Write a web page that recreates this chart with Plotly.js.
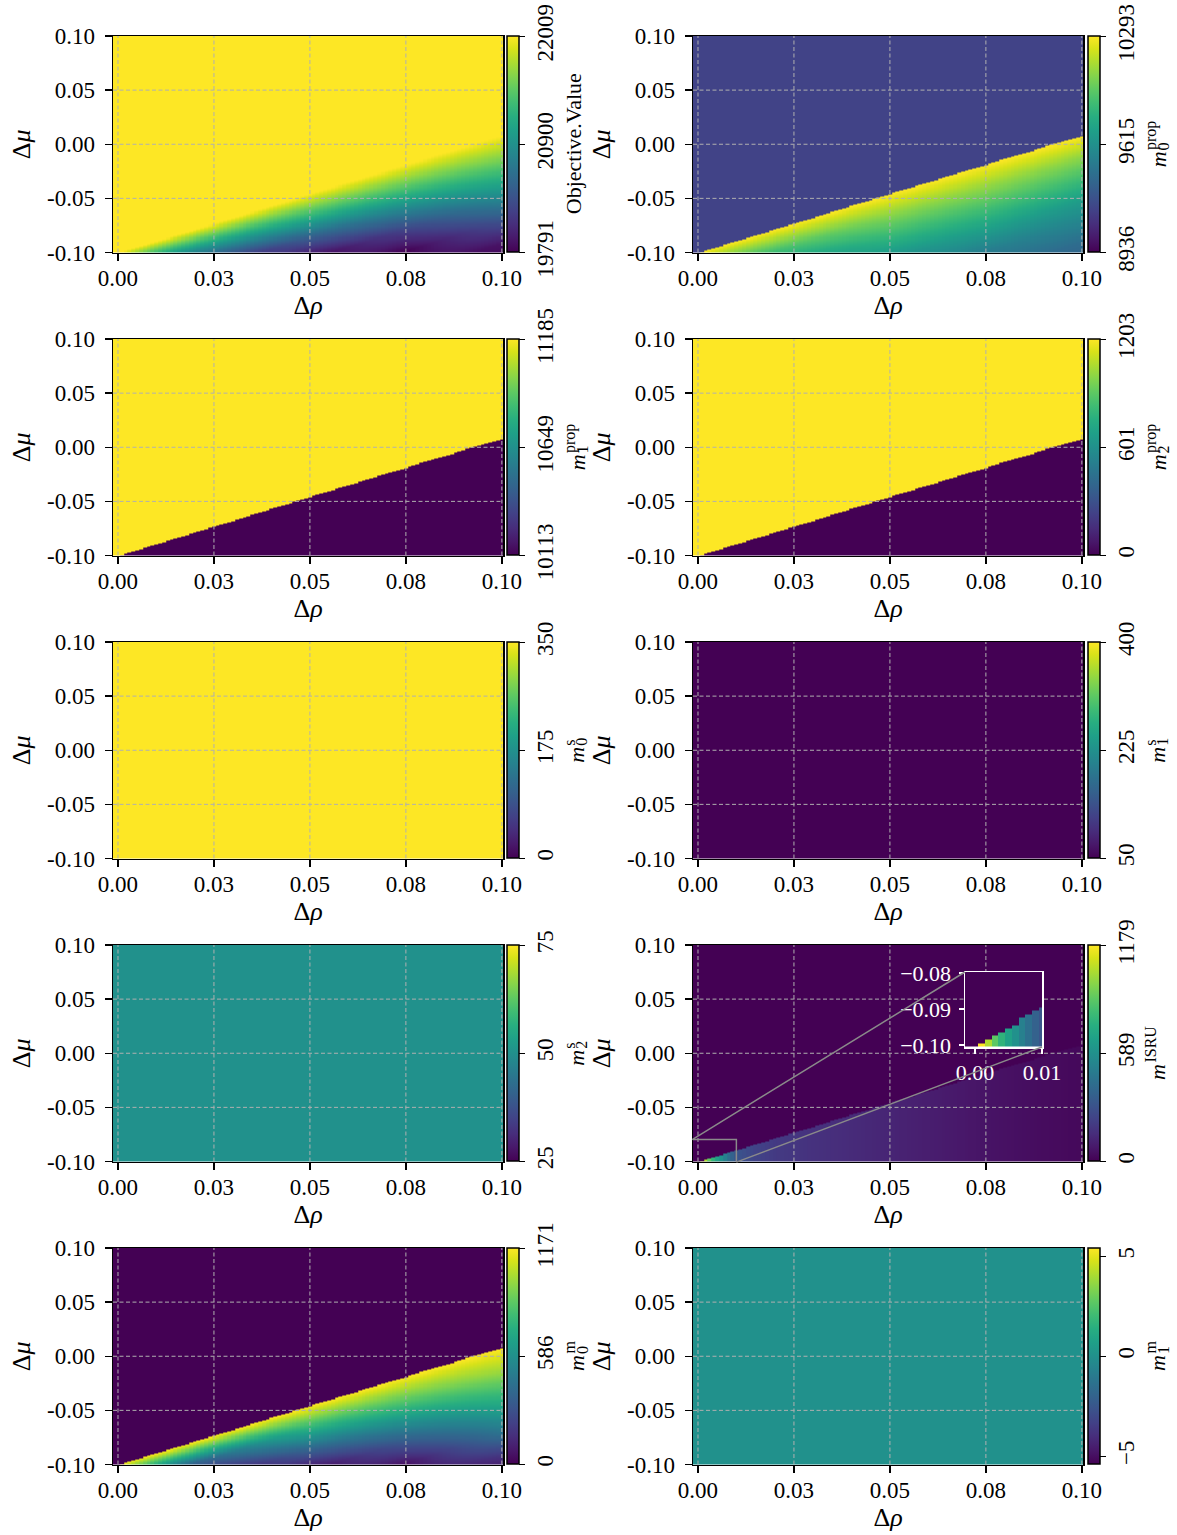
<!DOCTYPE html>
<html>
<head>
<meta charset="utf-8">
<script src="https://cdn.plot.ly/plotly-3.0.1.min.js"></script>
<style>html,body{margin:0;padding:0;background:#fff}</style>
</head>
<body>
<div id="chart" style="width:1177px;height:1535px"></div>
<script>
// ---------------- DATA ----------------
// axis ticks
const rhoTicks = [0, 0.025, 0.05, 0.075, 0.1];
const rhoTickText = ['0.00', '0.03', '0.05', '0.08', '0.10'];
const muTicks = [-0.1, -0.05, 0, 0.05, 0.1];
const muTickText = ['-0.10', '-0.05', '0.00', '0.05', '0.10'];

// sampling grid of the sweep (step 0.001 in both parameters)
const rhoGrid = Array.from({length: 101}, (_, i) => +(i * 0.001).toFixed(3));
const muGrid = Array.from({length: 201}, (_, j) => +(-0.1 + j * 0.001).toFixed(3));

// regime boundary (Δμ where the solution switches), read at these Δρ
const boundaryRho = [0, 0.025, 0.05, 0.075, 0.1];
const boundaryMu = [-0.1005, -0.0735, -0.046, -0.019, 0.008];

// values below the boundary, read at (profileRho row, depth-below-boundary column)
const profileRho = [0, 0.025, 0.05, 0.075, 0.1];
const profileDepth = [0, 0.02, 0.04, 0.06, 0.08, 0.1, 0.12];

// Objective value
const objRange = [19791, 22009];
const objAbove = 22009;
const objBelow = [
  [22009, 20456, 19791, 19791, 19791, 19791, 19791],
  [22009, 20922, 19902, 19791, 19791, 19791, 19791],
  [22009, 21255, 20456, 19791, 19791, 19791, 19791],
  [22009, 21432, 20833, 20235, 19791, 19791, 19791],
  [22009, 21610, 21188, 20767, 20323, 19902, 19791]
];
// m0 prop
const m0propRange = [8936, 10293];
const m0propAbove = 9207;
const m0propBelow = [
  [10293, 9750, 9547, 9479, 9411, 9343, 9343],
  [10293, 9913, 9615, 9547, 9479, 9411, 9343],
  [10293, 10049, 9832, 9615, 9506, 9452, 9411],
  [10293, 10076, 9886, 9696, 9506, 9411, 9343],
  [10293, 10062, 9872, 9682, 9547, 9411, 9343]
];
// m1 prop, m2 prop (two levels)
const m1propRange = [10113, 11185];
const m1propAbove = 11185, m1propBelow = 10113;
const m2propRange = [0, 1203];
const m2propAbove = 1203, m2propBelow = 0;
// structural masses (constant over the sweep)
const m0sRange = [0, 350], m0sValue = 350;
const m1sRange = [50, 400], m1sValue = 50;
const m2sRange = [25, 75], m2sValue = 50;
// ISRU mass below the boundary, depends on Δρ
const isruRange = [0, 1179];
const isruRho = [0.001, 0.002, 0.003, 0.004, 0.005, 0.006, 0.007, 0.008, 0.009, 0.01, 0.015, 0.02, 0.03, 0.04, 0.05, 0.06, 0.075, 0.09, 0.1];
const isruVal = [1179, 1038, 884, 766, 672, 590, 507, 436, 365, 307, 236, 200, 165, 141, 118, 94, 59, 35, 24];
const isruAbove = 0;
// m0 m
const m0mRange = [0, 1171];
const m0mAbove = 0;
const m0mBelow = [
  [1171, 234, 0, 0, 0, 0, 0],
  [1171, 410, 0, 0, 0, 0, 0],
  [1171, 761, 375, 23, 0, 0, 0],
  [1171, 890, 609, 328, 59, 0, 0],
  [1171, 1019, 820, 632, 433, 176, 0]
];
// m1 m
const m1mRange = [-5.4, 5.4], m1mValue = 0;

// colorbar ticks
const objCbVals = [19791, 20900, 22009], objCbText = ['19791', '20900', '22009'];
const m0propCbVals = [8936, 9614.5, 10293], m0propCbText = ['8936', '9615', '10293'];
const m1propCbVals = [10113, 10649, 11185], m1propCbText = ['10113', '10649', '11185'];
const m2propCbVals = [0, 601.5, 1203], m2propCbText = ['0', '601', '1203'];
const m0sCbVals = [0, 175, 350], m0sCbText = ['0', '175', '350'];
const m1sCbVals = [50, 225, 400], m1sCbText = ['50', '225', '400'];
const m2sCbVals = [25, 50, 75], m2sCbText = ['25', '50', '75'];
const isruCbVals = [0, 589.5, 1179], isruCbText = ['0', '589', '1179'];
const m0mCbVals = [0, 585.5, 1171], m0mCbText = ['0', '586', '1171'];
const m1mCbVals = [-5, 0, 5], m1mCbText = ['\u22125', '0', '5'];

// inset view
const insetXRange = [-0.0015, 0.01];
const insetYRange = [-0.1006, -0.0797];
const insetXTicks = [0, 0.01], insetXText = ['0.00', '0.01'];
const insetYTicks = [-0.1, -0.09, -0.08], insetYText = ['\u22120.10', '\u22120.09', '\u22120.08'];

// ---------------- HELPERS ----------------
function interp1(xs, ys, x) {
  if (x <= xs[0]) return ys[0];
  for (let k = 1; k < xs.length; k++) {
    if (x <= xs[k]) {
      const t = (x - xs[k - 1]) / (xs[k] - xs[k - 1]);
      return ys[k - 1] + t * (ys[k] - ys[k - 1]);
    }
  }
  return ys[ys.length - 1];
}
function tableAt(table, rho, depth) {
  const col = table.map(row => interp1(profileDepth, row, depth));
  return interp1(profileRho, col, rho);
}
const bnd = rho => interp1(boundaryRho, boundaryMu, rho);
function buildZ(fn) { return muGrid.map(mu => rhoGrid.map(rho => fn(rho, mu))); }

// ---------------- LAYOUT GEOMETRY ----------------
const W = 1177, H = 1535;
const FONT = '"Liberation Serif", "Times New Roman", serif';
const colX0 = [113, 693], colX1 = [503, 1083];
const cbX = [507, 1088];
const mCenterX = [577, 1158];
const rowY0 = [36, 339, 642, 945, 1248], plotH = 216.5;
const xRange = [-0.0013, 0.1003], yRange = [-0.1, 0.1];

const xEdges = [-0.0015].concat(rhoGrid.slice(1).map((r, i) => (r + rhoGrid[i]) / 2), [0.1005]);
const yEdges = [-0.1005].concat(muGrid.slice(1).map((m, j) => (m + muGrid[j]) / 2), [0.1005]);

const panels = [
  {label: {text: 'Objective.Value'}, range: objRange, tv: objCbVals, tt: objCbText,
   f: (r, m) => m >= bnd(r) ? objAbove : tableAt(objBelow, r, bnd(r) - m)},
  {label: {base: 'm', sub: '0', sup: 'prop'}, range: m0propRange, tv: m0propCbVals, tt: m0propCbText,
   f: (r, m) => m >= bnd(r) ? m0propAbove : tableAt(m0propBelow, r, bnd(r) - m)},
  {label: {base: 'm', sub: '1', sup: 'prop'}, range: m1propRange, tv: m1propCbVals, tt: m1propCbText,
   f: (r, m) => m >= bnd(r) ? m1propAbove : m1propBelow},
  {label: {base: 'm', sub: '2', sup: 'prop'}, range: m2propRange, tv: m2propCbVals, tt: m2propCbText,
   f: (r, m) => m >= bnd(r) ? m2propAbove : m2propBelow},
  {label: {base: 'm', sub: '0', sup: 's'}, range: m0sRange, tv: m0sCbVals, tt: m0sCbText, f: () => m0sValue},
  {label: {base: 'm', sub: '1', sup: 's'}, range: m1sRange, tv: m1sCbVals, tt: m1sCbText, f: () => m1sValue},
  {label: {base: 'm', sub: '2', sup: 's'}, range: m2sRange, tv: m2sCbVals, tt: m2sCbText, f: () => m2sValue},
  {label: {base: 'm', sub: '', sup: 'ISRU'}, range: isruRange, tv: isruCbVals, tt: isruCbText,
   f: (r, m) => m >= bnd(r) ? isruAbove : interp1(isruRho, isruVal, r)},
  {label: {base: 'm', sub: '0', sup: 'm'}, range: m0mRange, tv: m0mCbVals, tt: m0mCbText,
   f: (r, m) => m >= bnd(r) ? m0mAbove : tableAt(m0mBelow, r, bnd(r) - m)},
  {label: {base: 'm', sub: '1', sup: 'm'}, range: m1mRange, tv: m1mCbVals, tt: m1mCbText, f: () => m1mValue}
];

// text measuring for the stacked sub/superscript colorbar labels
const mctx = document.createElement('canvas').getContext('2d');
function textW(txt, size, italic) {
  mctx.font = (italic ? 'italic ' : '') + size + 'px "Liberation Serif"';
  return mctx.measureText(txt).width;
}

const data = [];
const layout = {
  width: W, height: H, margin: {l: 0, r: 0, t: 0, b: 0},
  paper_bgcolor: 'white', plot_bgcolor: 'white', showlegend: false, hovermode: false,
  font: {family: FONT, size: 23, color: 'black'},
  annotations: [], shapes: []
};

const axBase = {
  showline: true, linecolor: 'black', linewidth: 1.5, mirror: true,
  ticks: 'outside', ticklen: 7, tickwidth: 1.5, tickcolor: 'black',
  showgrid: false, zeroline: false, layer: 'above traces',
  tickfont: {family: FONT, size: 23, color: 'black'}, fixedrange: true
};

function ann(x, y, text, size, xanchor, yanchor) {
  return {xref: 'paper', yref: 'paper', x: x / W, y: 1 - y / H, text: text, textangle: -90,
    showarrow: false, xanchor: xanchor, yanchor: yanchor, borderpad: 0, borderwidth: 0,
    font: {family: FONT, size: size, color: 'black'}};
}

let isruZ = null;
panels.forEach((p, i) => {
  const row = Math.floor(i / 2), col = i % 2, n = i + 1;
  const xa = n === 1 ? 'x' : 'x' + n, ya = n === 1 ? 'y' : 'y' + n;
  const z = buildZ(p.f);
  if (i === 7) isruZ = z;
  const cy = rowY0[row] + plotH / 2;
  data.push({
    type: 'heatmap', x: xEdges, y: yEdges, z: z, zmin: p.range[0], zmax: p.range[1],
    colorscale: 'Viridis', xaxis: xa, yaxis: ya, hoverinfo: 'skip',
    colorbar: {
      x: cbX[col] / W, xanchor: 'left', xpad: 0, ypad: 0,
      y: 1 - cy / H, yanchor: 'middle',
      len: plotH / H, lenmode: 'fraction', thickness: 12, thicknessmode: 'pixels',
      outlinewidth: 1.5, outlinecolor: 'black',
      ticks: 'outside', ticklen: 6, tickwidth: 1.5, tickcolor: 'black',
      tickangle: -90, tickmode: 'array', tickvals: p.tv, ticktext: p.tt,
      tickfont: {family: FONT, size: 23, color: 'black'}
    }
  });
  // grid lines from the tick arrays
  const gx = [], gy = [];
  rhoTicks.forEach(t => { gx.push(t, t, null); gy.push(yRange[0], yRange[1], null); });
  muTicks.filter(t => t > yRange[0] && t < yRange[1]).forEach(t => { gx.push(xRange[0], xRange[1], null); gy.push(t, t, null); });
  data.push({type: 'scatter', mode: 'lines', x: gx, y: gy, xaxis: xa, yaxis: ya,
    line: {color: '#b0b0b0', width: 1, dash: '4px,2.5px'}, hoverinfo: 'skip', showlegend: false});

  const xKey = 'xaxis' + (n === 1 ? '' : n), yKey = 'yaxis' + (n === 1 ? '' : n);
  layout[xKey] = Object.assign({}, axBase, {
    domain: [colX0[col] / W, colX1[col] / W], range: xRange, anchor: ya,
    tickmode: 'array', tickvals: rhoTicks, ticktext: rhoTickText, ticklabelstandoff: -3,
    title: {text: '\u0394<i>\u03c1</i>', font: {family: FONT, size: 26}, standoff: 6}
  });
  layout[yKey] = Object.assign({}, axBase, {
    domain: [1 - (rowY0[row] + plotH) / H, 1 - rowY0[row] / H], range: yRange, anchor: xa,
    tickmode: 'array', tickvals: muTicks, ticktext: muTickText, ticklabelstandoff: 5,
    title: {text: '\u0394<i>\u03bc</i>', font: {family: FONT, size: 26}, standoff: 9}
  });

  // colorbar label
  const L = p.label;
  if (L.text) {
    layout.annotations.push(ann(mCenterX[col] - 4, cy, L.text, 22, 'center', 'middle'));
  } else {
    const wM = textW(L.base, 22, true);
    const wS = Math.max(textW(L.sub, 16, false), textW(L.sup, 16, false));
    const total = wM + 1 + wS;
    const yStart = cy + total / 2;
    layout.annotations.push(ann(mCenterX[col], yStart, '<i>' + L.base + '</i>', 22, 'center', 'bottom'));
    if (L.sub) layout.annotations.push(ann(mCenterX[col] + 5, yStart - wM - 1, L.sub, 16, 'center', 'bottom'));
    layout.annotations.push(ann(mCenterX[col] - 7, yStart - wM - 1, L.sup, 16, 'center', 'bottom'));
  }
});

// inset (zoom of the ISRU panel)
const inX0 = 965, inX1 = 1042, inY0 = 972, inY1 = 1047;
data.push({type: 'heatmap', x: xEdges, y: yEdges, z: isruZ, zmin: isruRange[0], zmax: isruRange[1],
  colorscale: 'Viridis', showscale: false, xaxis: 'x11', yaxis: 'y11', hoverinfo: 'skip'});
const inAx = {
  showline: true, linecolor: 'white', linewidth: 1.5, mirror: true,
  ticks: 'outside', ticklen: 5, tickwidth: 1.5, tickcolor: 'white',
  showgrid: false, zeroline: false, layer: 'above traces', fixedrange: true,
  tickfont: {family: FONT, size: 22, color: 'white'}
};
layout.xaxis11 = Object.assign({}, inAx, {domain: [inX0 / W, inX1 / W], range: insetXRange, anchor: 'y11',
  tickmode: 'array', tickvals: insetXTicks, ticktext: insetXText});
layout.yaxis11 = Object.assign({}, inAx, {domain: [1 - inY1 / H, 1 - inY0 / H], range: insetYRange, anchor: 'x11',
  tickmode: 'array', tickvals: insetYTicks, ticktext: insetYText, ticklabelstandoff: 3});

// zoom indicator rectangle and connectors
layout.shapes.push({type: 'rect', xref: 'x8', yref: 'y8', x0: insetXRange[0], x1: insetXRange[1],
  y0: insetYRange[0], y1: insetYRange[1], line: {color: '#8a8a8a', width: 1.5}, fillcolor: 'rgba(0,0,0,0)'});
function mainToPaper(rho, mu) {
  const px = colX0[1] + (rho - xRange[0]) / (xRange[1] - xRange[0]) * (colX1[1] - colX0[1]);
  const py = rowY0[3] + (yRange[1] - mu) / (yRange[1] - yRange[0]) * plotH;
  return [px / W, 1 - py / H];
}
const a1 = mainToPaper(insetXRange[0], insetYRange[1]);
const a2 = mainToPaper(insetXRange[1], insetYRange[0]);
layout.shapes.push({type: 'line', xref: 'paper', yref: 'paper', x0: a1[0], y0: a1[1], x1: inX0 / W, y1: 1 - inY0 / H,
  line: {color: '#8a8a8a', width: 1.5}});
layout.shapes.push({type: 'line', xref: 'paper', yref: 'paper', x0: a2[0], y0: a2[1], x1: inX1 / W, y1: 1 - inY1 / H,
  line: {color: '#8a8a8a', width: 1.5}});

Plotly.newPlot('chart', data, layout, {staticPlot: true, displayModeBar: false});
</script>
</body>
</html>
